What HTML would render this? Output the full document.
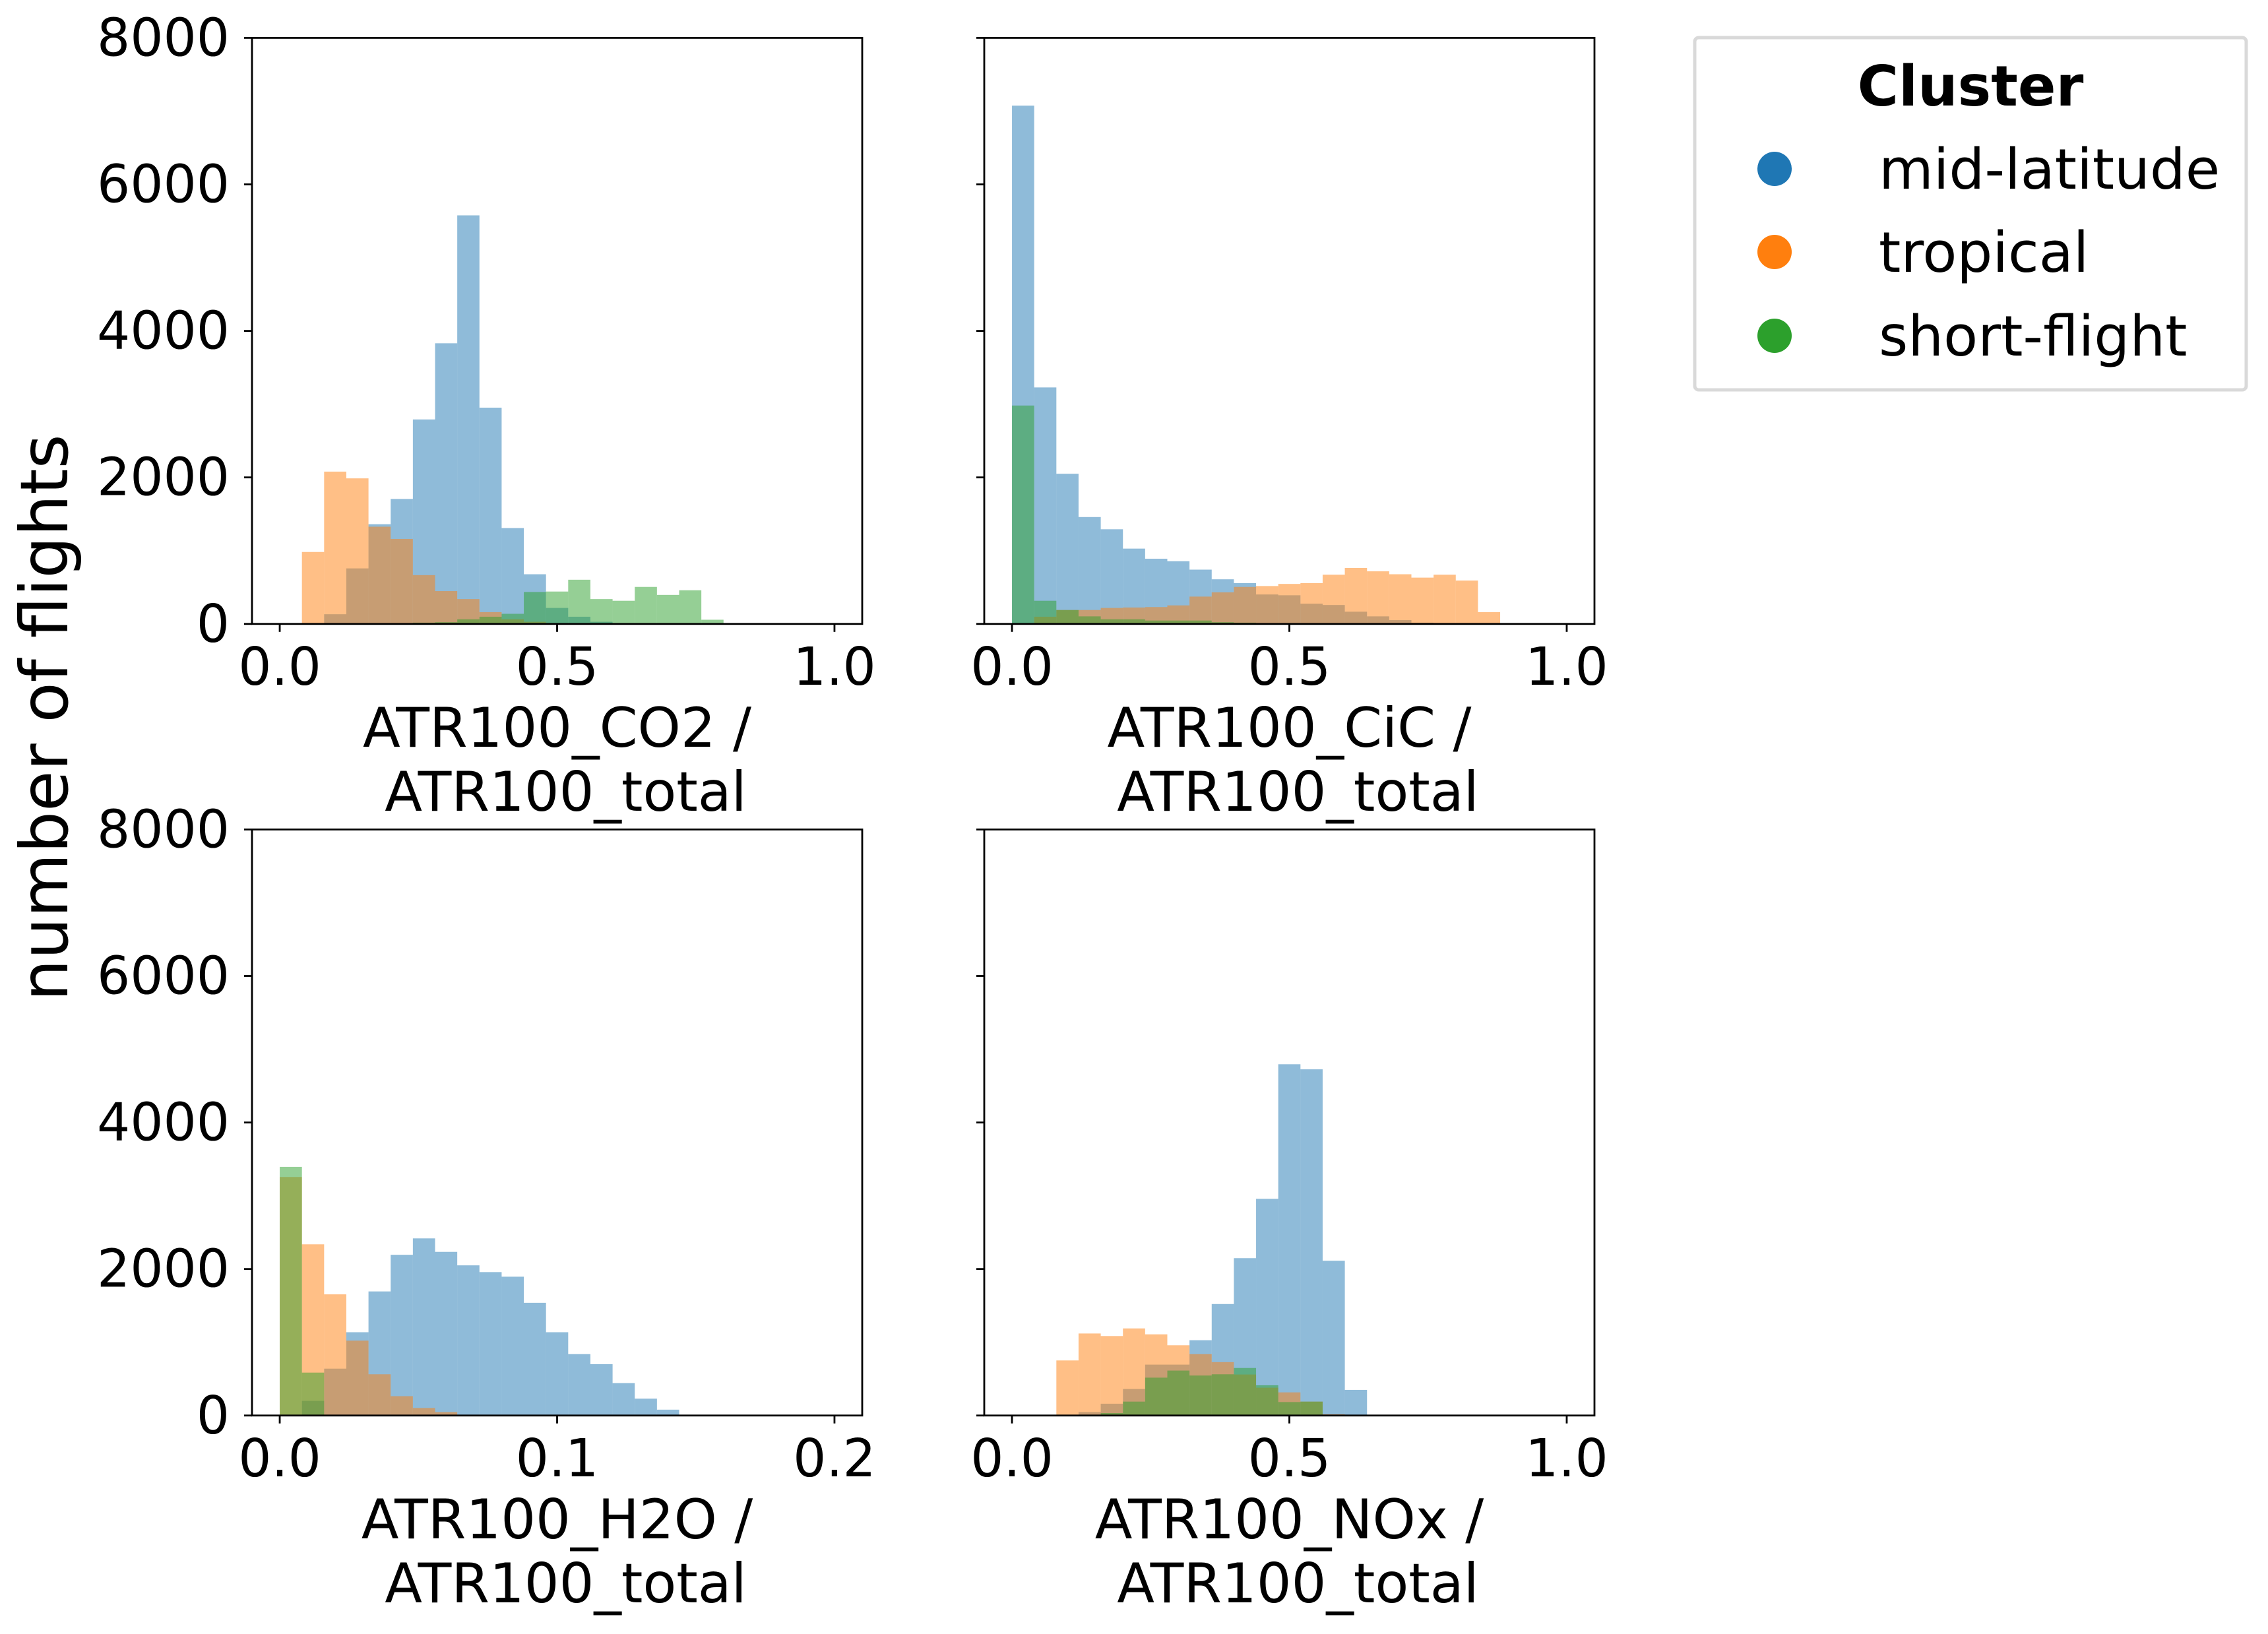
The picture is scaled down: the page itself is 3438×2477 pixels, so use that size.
<!DOCTYPE html>
<html><head><meta charset="utf-8">
<style>
html,body{margin:0;padding:0;background:#fff;}
svg{display:block;}
text{font-family:"DejaVu Sans","Liberation Sans",sans-serif;fill:#000;}
</style></head>
<body>
<svg id="chart" width="3438" height="2477" viewBox="0 0 3438 2477" xmlns="http://www.w3.org/2000/svg">
<rect x="0" y="0" width="3438" height="2477" fill="#fff"/>
<text x="0" y="0" font-size="100" text-anchor="middle" transform="translate(102,1088) rotate(-90)">number of flights</text>
<g>
<rect x="2569" y="57" width="836" height="534" rx="6" fill="#fff" stroke="#d9d9d9" stroke-width="5"/>
<text x="2987" y="160" font-size="85" font-weight="bold" text-anchor="middle">Cluster</text>
<circle cx="2690" cy="256" r="26" fill="#1f77b4"/>
<text x="2848" y="286" font-size="85">mid-latitude</text>
<circle cx="2690" cy="382" r="26" fill="#ff7f0e"/>
<text x="2848" y="412" font-size="85">tropical</text>
<circle cx="2690" cy="509" r="26" fill="#2ca02c"/>
<text x="2848" y="539" font-size="85">short-flight</text>
</g>
</svg>
<script>
// ---- data ----
const panelNames = ["co2","cic","h2o","nox"];
const binStarts = [0.04, 0.0, 0.0, 0.08];
const binWidths = [0.04, 0.04, 0.008, 0.04];
const xMaxes = [1.0, 1.0, 0.2, 1.0];
const xTickLabels = [["0.0","0.5","1.0"],["0.0","0.5","1.0"],["0.0","0.1","0.2"],["0.0","0.5","1.0"]];
const xTickValues = [[0,0.5,1],[0,0.5,1],[0,0.1,0.2],[0,0.5,1]];
const yTickValues = [0,2000,4000,6000,8000];
const yTickLabels = ["0","2000","4000","6000","8000"];
const xLabelLine1 = ["ATR100_CO2 /","ATR100_CiC /","ATR100_H2O /","ATR100_NOx /"];
const xLabelLine2 = ["ATR100_total","ATR100_total","ATR100_total","ATR100_total"];
const seriesNames = ["mid-latitude","tropical","short-flight"];
const midLatCO2 = [0,132,758,1361,1706,2791,3831,5577,2952,1309,678,218,98,29,0,0,0,0,0,0];
const tropicalCO2 = [982,2079,1987,1327,1160,666,448,339,161,63,29,0,0,0,0,0,0,0,0,0];
const shortCO2 = [0,0,0,0,0,17,23,63,98,138,436,442,603,339,316,505,396,459,57,11];
const midLatCiC = [7075,3228,2050,1459,1292,1028,890,856,741,609,557,402,391,276,258,167,103,52,17,0,0,0];
const tropicalCiC = [0,98,190,190,218,224,230,253,373,431,505,517,546,557,672,764,718,678,632,672,592,161];
const shortCiC = [2981,316,190,103,63,63,46,46,46,23,17,11,0,0,0,0,0,0,0,0,0,0];
const midLatH2O = [0,200,640,1137,1694,2194,2418,2234,2050,1958,1895,1539,1137,838,701,442,230,80];
const tropicalH2O = [3256,2337,1654,1022,563,264,103,46,0,0,0,0,0,0,0,0,0,0];
const shortH2O = [3394,586,10,0,0,0,0,0,0,0,0,0,0,0,0,0,0,0];
const midLatNOx = [0,46,161,362,695,695,1028,1522,2148,2958,4795,4726,2113,350];
const tropicalNOx = [752,1120,1085,1189,1108,959,838,729,560,380,316,190,17,0];
const shortNOx = [0,10,34,190,517,614,546,563,649,413,184,190,0,0];
const panelSeries = [
  [midLatCO2, tropicalCO2, shortCO2],
  [midLatCiC, tropicalCiC, shortCiC],
  [midLatH2O, tropicalH2O, shortH2O],
  [midLatNOx, tropicalNOx, shortNOx]
];
// ---- layout ----
const colors = ["#1f77b4","#ff7f0e","#2ca02c"];
const axLeft = [382,1492,382,1492];
const axTop = [57.4,57.4,1257.4,1257.4];
const axW = 925, axH = 888.4, yMax = 8000;
const NS = "http://www.w3.org/2000/svg";
const svg = document.getElementById("chart");
function mk(tag, attrs, parent){
  const e = document.createElementNS(NS, tag);
  for (const k in attrs) e.setAttribute(k, attrs[k]);
  parent.appendChild(e);
  return e;
}
for (let p = 0; p < 4; p++) {
  const L = axLeft[p], T = axTop[p], B = T + axH;
  const span = xMaxes[p] * 1.1;
  const xs = v => L + (v + 0.05 * xMaxes[p]) / span * axW;
  const ys = v => B - v / yMax * axH;
  const g = mk("g", {}, svg);
  
  
  for (let s = 0; s < 3; s++) {
    const sg = mk("g", {fill: colors[s], "fill-opacity": 0.5}, g);
    
    
    const vals = panelSeries[p][s];
    for (let i = 0; i < vals.length; i++) {
      if (vals[i] <= 0) continue;
      const x0 = xs(binStarts[p] + i * binWidths[p]);
      const x1 = xs(binStarts[p] + (i + 1) * binWidths[p]);
      const r = mk("rect", {x: x0, y: ys(vals[i]), width: x1 - x0, height: B - ys(vals[i])}, sg);
      
      
    }
  }
  const frame = mk("rect", {x: L, y: T, width: axW, height: axH, fill: "none", stroke: "#000", "stroke-width": 2.8}, g);
  
  
  for (let i = 0; i < yTickValues.length; i++) {
    const y = ys(yTickValues[i]);
    const tk = mk("line", {x1: L - 12, x2: L, y1: y, y2: y, stroke: "#000", "stroke-width": 2.8}, g);
    
    
    if (p % 2 === 0) {
      const t = mk("text", {x: L - 34, y: y, "font-size": 79, "text-anchor": "end", "dominant-baseline": "central"}, g);
      t.textContent = yTickLabels[i];
      
      
    }
  }
  for (let i = 0; i < xTickValues[p].length; i++) {
    const x = xs(xTickValues[p][i]);
    const tk = mk("line", {x1: x, x2: x, y1: B, y2: B + 12, stroke: "#000", "stroke-width": 2.8}, g);
    
    
    const t = mk("text", {x: x, y: B + 92, "font-size": 79, "text-anchor": "middle"}, g);
    t.textContent = xTickLabels[p][i];
    
    
  }
  const cx = L + axW / 2;
  const l1 = mk("text", {x: cx, y: B + 186, "font-size": 83, "text-anchor": "middle"}, g);
  l1.textContent = xLabelLine1[p];
  
  
  const l2 = mk("text", {x: cx + 13, y: B + 283, "font-size": 83, "text-anchor": "middle"}, g);
  l2.textContent = xLabelLine2[p];
  
  
}
</script>
</body></html>
